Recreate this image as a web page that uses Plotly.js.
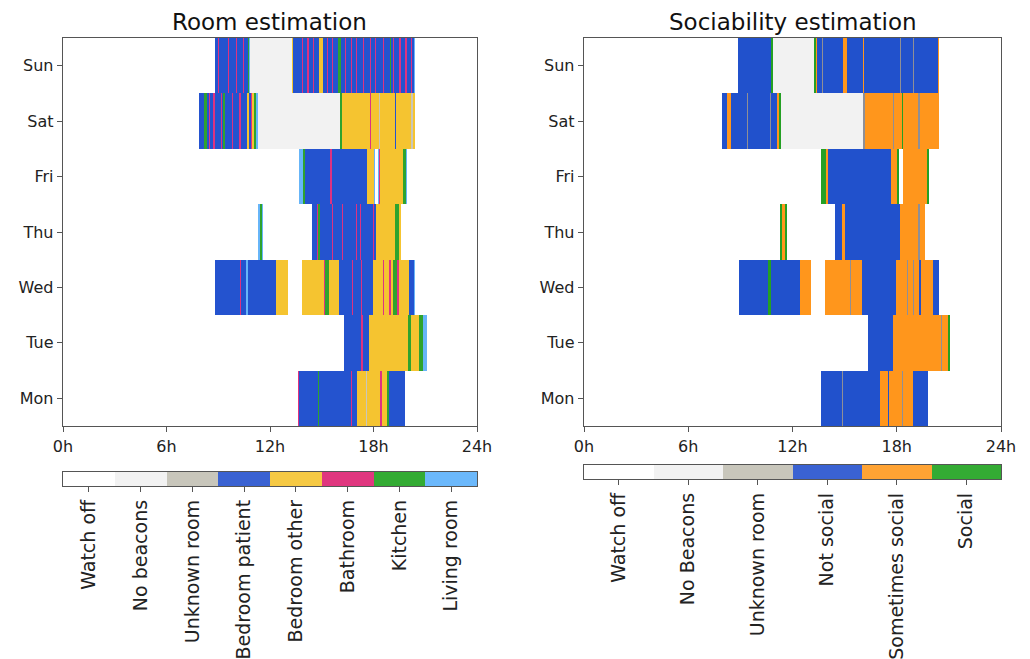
<!DOCTYPE html>
<html>
<head>
<meta charset="utf-8">
<script src="https://cdn.plot.ly/plotly-3.0.1.min.js"></script>
<style>html,body{margin:0;padding:0;background:#fff;}#chart{width:1030px;height:659px;}</style>
</head>
<body>
<div id="chart"></div>
<script>
// ---------------- data ----------------
const days = ['Mon','Tue','Wed','Thu','Fri','Sat','Sun'];
const hourTicks = [0, 6, 12, 18, 24];
const hourTickText = ['0h','6h','12h','18h','24h'];

const roomLabels = ['Watch off','No beacons','Unknown room','Bedroom patient','Bedroom other','Bathroom','Kitchen','Living room'];
const roomColors = ['#ffffff','#f2f2f2','#c8c6bb','#2453cf','#f5c430','#de3281','#2ea32e','#67b5f8'];
const roomBarColors = ['#ffffff','#f2f2f2','#c8c6bb','#3a62d2','#f6c944','#e0377f','#33ab33','#6bb8fb'];

const socLabels = ['Watch off','No Beacons','Unknown room','Not social','Sometimes social','Social'];
const socColors = ['#ffffff','#f2f2f2','#8f8f96','#2151cc','#ff961c','#24a024'];
const socBarColors = ['#ffffff','#f2f2f2','#c8c6bb','#3a62d2','#ffa333','#33ab33'];

// segments: [start hour, end hour, category index]
const roomMon = [[13.64,13.7,5],[13.7,14.77,3],[14.77,14.86,6],[14.86,16.7,3],[16.7,16.77,5],[16.77,17.02,3],[17.02,17.55,4],[17.55,17.62,2],[17.62,18.4,4],[18.4,18.47,5],[18.47,18.8,4],[18.8,18.9,6],[18.9,19.83,3]];
const roomTue = [[16.3,17.3,3],[17.3,17.37,5],[17.37,17.76,3],[17.76,20.0,4],[20.0,20.15,6],[20.15,20.65,4],[20.65,20.88,6],[20.88,21.08,7]];
const roomWed = [[8.83,10.26,3],[10.26,10.33,5],[10.33,10.6,3],[10.6,10.7,7],[10.7,12.35,3],[12.35,13.06,4],[13.06,13.86,0],[13.86,15.15,4],[15.15,15.2,5],[15.2,15.4,6],[15.4,16.0,4],[16.0,16.73,3],[16.73,16.8,5],[16.8,17.26,3],[17.26,17.33,5],[17.33,17.95,3],[17.95,18.53,4],[18.53,18.6,5],[18.6,18.92,4],[18.92,18.99,5],[18.99,19.15,4],[19.15,19.34,6],[19.34,19.38,4],[19.38,19.48,5],[19.48,20.08,4],[20.08,20.36,3],[20.36,20.42,7]];
const roomThu = [[11.32,11.4,7],[11.4,11.52,6],[11.52,11.6,7],[14.43,14.7,3],[14.7,14.8,5],[14.8,14.92,6],[14.92,15.57,3],[15.57,15.64,5],[15.64,16.15,3],[16.15,16.22,5],[16.22,16.97,3],[16.97,17.04,5],[17.04,17.2,3],[17.2,17.27,5],[17.27,17.98,3],[17.98,18.05,5],[18.05,18.15,3],[18.15,19.25,4],[19.25,19.5,6],[19.5,19.57,4]];
const roomFri = [[13.7,13.93,7],[13.93,14.05,6],[14.05,15.5,3],[15.5,15.57,5],[15.57,17.6,3],[17.6,18.0,4],[18.0,18.07,7],[18.07,18.25,0],[18.25,18.3,7],[18.3,18.4,5],[18.4,19.73,4],[19.73,19.87,6],[19.87,19.92,7]];
const roomSat = [[7.9,8.17,3],[8.17,8.33,6],[8.33,8.48,3],[8.48,8.55,5],[8.55,8.72,3],[8.72,8.79,5],[8.79,9.14,3],[9.14,9.21,5],[9.21,9.3,3],[9.3,9.38,6],[9.38,9.78,3],[9.78,9.85,5],[9.85,10.22,3],[10.22,10.29,5],[10.29,10.65,3],[10.65,10.8,4],[10.8,10.9,3],[10.9,10.97,5],[10.97,11.1,4],[11.1,11.2,6],[11.2,11.3,7],[11.3,16.06,1],[16.06,16.2,6],[16.2,17.8,4],[17.8,17.87,5],[17.87,18.3,4],[18.3,18.37,2],[18.37,19.25,4],[19.25,19.32,3],[19.32,20.2,4],[20.2,20.27,2],[20.27,20.4,4]];
const roomSun = [[8.83,9.0,3],[9.0,9.07,5],[9.07,9.58,3],[9.58,9.65,5],[9.65,10.0,3],[10.0,10.07,5],[10.07,10.45,3],[10.45,10.52,5],[10.52,10.72,3],[10.72,10.8,6],[10.8,10.86,7],[10.86,13.25,1],[13.25,13.35,4],[13.35,13.86,3],[13.86,13.93,5],[13.93,14.17,3],[14.17,14.24,5],[14.24,14.47,3],[14.47,14.55,5],[14.55,14.83,3],[14.83,15.08,4],[15.08,15.3,3],[15.3,15.37,5],[15.37,15.6,3],[15.6,15.67,5],[15.67,15.95,3],[15.95,16.1,6],[16.1,16.35,3],[16.35,16.42,5],[16.42,16.7,3],[16.7,16.77,5],[16.77,17.0,3],[17.0,17.07,5],[17.07,17.4,3],[17.4,17.47,5],[17.47,17.78,3],[17.78,17.85,5],[17.85,18.1,3],[18.1,18.17,5],[18.17,18.55,3],[18.55,18.62,5],[18.62,18.96,3],[18.96,19.03,6],[19.03,19.13,3],[19.13,19.2,5],[19.2,19.5,3],[19.5,19.57,5],[19.57,19.85,3],[19.85,19.92,5],[19.92,20.18,3],[20.18,20.25,5],[20.25,20.33,3],[20.33,20.41,7]];

const socMon = [[13.64,14.86,3],[14.86,14.93,2],[14.93,17.06,3],[17.06,17.5,4],[17.5,17.57,3],[17.57,18.3,4],[18.3,18.37,2],[18.37,18.92,4],[18.92,19.82,3]];
const socTue = [[16.33,17.76,3],[17.76,20.55,4],[20.55,20.62,2],[20.62,20.93,4],[20.93,21.07,5]];
const socWed = [[8.9,10.6,3],[10.6,10.75,5],[10.75,12.41,3],[12.41,13.08,4],[13.08,13.89,0],[13.89,15.3,4],[15.3,15.37,2],[15.37,16.02,4],[16.02,17.96,3],[17.96,18.57,4],[18.57,18.64,2],[18.64,18.95,4],[18.95,19.02,2],[19.02,19.3,4],[19.3,19.38,3],[19.38,20.07,4],[20.07,20.45,3]];
const socThu = [[11.28,11.38,5],[11.38,11.57,4],[11.57,11.66,5],[14.47,14.85,3],[14.85,15.0,4],[15.0,18.19,3],[18.19,19.24,4],[19.24,19.31,2],[19.31,19.65,4]];
const socFri = [[13.66,13.93,5],[13.93,14.05,4],[14.05,17.65,3],[17.65,18.03,4],[18.03,18.15,5],[18.15,18.38,0],[18.38,19.76,4],[19.76,19.87,5]];
const socSat = [[7.94,8.25,3],[8.25,8.44,4],[8.44,9.36,3],[9.36,9.43,2],[9.43,10.7,3],[10.7,10.77,2],[10.77,11.09,3],[11.09,11.24,4],[11.24,11.34,5],[11.34,16.08,1],[16.08,16.2,2],[16.2,17.8,4],[17.8,17.87,2],[17.87,18.3,4],[18.3,18.37,5],[18.37,19.24,4],[19.24,19.31,2],[19.31,20.43,4]];
const socSun = [[8.88,10.74,3],[10.74,10.9,5],[10.9,13.26,1],[13.26,13.35,5],[13.35,13.42,4],[13.42,13.7,3],[13.7,13.77,2],[13.77,14.89,3],[14.89,15.12,4],[15.12,16.04,3],[16.04,16.13,4],[16.13,18.19,3],[18.19,18.26,2],[18.26,18.95,3],[18.95,19.02,2],[19.02,20.39,3],[20.39,20.45,4]];

const roomByDay = [roomMon, roomTue, roomWed, roomThu, roomFri, roomSat, roomSun];
const socByDay = [socMon, socTue, socWed, socThu, socFri, socSat, socSun];

// ---------------- build ----------------
const FONT = 'DejaVu Sans, Liberation Sans, sans-serif';
const W = 1030, H = 659;
const px = v => v / W;
const py = v => 1 - v / H;

function segTraces(byDay, colors, xa, ya) {
  const traces = [];
  colors.forEach((col, c) => {
    const y = [], x = [], base = [];
    byDay.forEach((segs, d) => {
      segs.forEach(s => {
        if (s[2] === c) { y.push(days[d]); base.push(s[0]); x.push(s[1] - s[0]); }
      });
    });
    traces.push({
      type: 'bar', orientation: 'h', y: y, x: x, base: base, width: 1,
      marker: {color: col, line: {width: 0}},
      xaxis: xa, yaxis: ya, hoverinfo: 'skip', showlegend: false
    });
  });
  return traces;
}

function barTrace(labels, colors, xa, ya) {
  const n = labels.length;
  const cs = [];
  colors.forEach((c, i) => { cs.push([i / n, c]); cs.push([(i + 1) / n, c]); });
  return {
    type: 'heatmap', z: [labels.map((_, i) => i)], x: labels, y: [0],
    zmin: -0.5, zmax: n - 0.5, colorscale: cs, showscale: false,
    xaxis: xa, yaxis: ya, hoverinfo: 'skip', xgap: 0
  };
}

const traces = [
  ...segTraces(roomByDay, roomColors, 'x', 'y'),
  ...segTraces(socByDay, socColors, 'x2', 'y2'),
  barTrace(roomLabels, roomBarColors, 'x3', 'y3'),
  barTrace(socLabels, socBarColors, 'x4', 'y4')
];

const frame = {showline: true, mirror: true, linecolor: '#555', linewidth: 1.3, zeroline: false, showgrid: false, automargin: false};
const tickF = {family: FONT, size: 16, color: '#222'};

function timeAxis(x0, x1, anchor) {
  return Object.assign({}, frame, {
    domain: [px(x0), px(x1)], anchor: anchor, range: [0, 24],
    tickvals: hourTicks, ticktext: hourTickText, ticks: 'outside', ticklen: 5, tickcolor: '#555',
    tickfont: tickF, fixedrange: true
  });
}
function dayAxis(anchor) {
  return Object.assign({}, frame, {
    domain: [py(426), py(38)], anchor: anchor, type: 'category', categoryarray: days,
    range: [-0.5, 6.5], ticks: 'outside', ticklen: 5, tickcolor: '#555', tickfont: tickF, fixedrange: true
  });
}
function cbX(x0, x1, anchor) {
  return Object.assign({}, frame, {
    domain: [px(x0), px(x1)], anchor: anchor, type: 'category',
    ticks: 'outside', ticklen: 5, tickcolor: '#555', tickangle: -90,
    tickfont: {family: FONT, size: 19, color: '#222'}, fixedrange: true
  });
}
function cbY(y0, y1, anchor) {
  return Object.assign({}, frame, {
    domain: [py(y1), py(y0)], anchor: anchor, range: [-0.5, 0.5],
    showticklabels: false, ticks: '', fixedrange: true
  });
}

const layout = {
  width: W, height: H, margin: {l: 0, r: 0, t: 0, b: 0},
  paper_bgcolor: '#fff', plot_bgcolor: '#fff',
  barmode: 'overlay', bargap: 0, showlegend: false,
  font: {family: FONT, color: '#222'},
  xaxis: timeAxis(63, 477, 'y'),
  yaxis: dayAxis('x'),
  xaxis2: timeAxis(584, 1001, 'y2'),
  yaxis2: dayAxis('x2'),
  xaxis3: cbX(63, 477, 'y3'),
  yaxis3: cbY(472, 486, 'x3'),
  xaxis4: cbX(584, 1001, 'y4'),
  yaxis4: cbY(465, 479, 'x4'),
  annotations: [
    {text: 'Room estimation', xref: 'paper', yref: 'paper', x: px(269), y: py(22), xanchor: 'center', yanchor: 'middle', showarrow: false, font: {family: FONT, size: 23, color: '#111'}},
    {text: 'Sociability estimation', xref: 'paper', yref: 'paper', x: px(792.5), y: py(22), xanchor: 'center', yanchor: 'middle', showarrow: false, font: {family: FONT, size: 23, color: '#111'}}
  ]
};

Plotly.newPlot('chart', traces, layout, {displayModeBar: false, staticPlot: true});
</script>
</body>
</html>
